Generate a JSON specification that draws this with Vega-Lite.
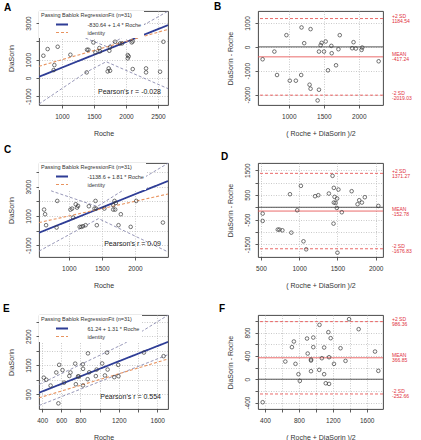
{
"$schema": "https://vega.github.io/schema/vega-lite/v6.json",
"background": "white",
"padding": {"left": 2, "top": 1, "right": 2, "bottom": 2},
"columns": 2,
"bounds": "flush",
"spacing": {"row": 58, "column": 90},
"resolve": {
  "scale": {"x": "independent", "y": "independent", "color": "independent", "strokeDash": "independent", "strokeWidth": "independent"},
  "axis": {"x": "independent", "y": "independent"},
  "legend": {"color": "independent", "strokeDash": "independent", "strokeWidth": "independent"}
},
"datasets": {
  "zero": [{"value": 0}],
  "A_pts": [
    {"Roche":709,"DiaSorin":1216},{"Roche":776,"DiaSorin":1580},{"Roche":881,"DiaSorin":706},{"Roche":870,"DiaSorin":433},
    {"Roche":933,"DiaSorin":1707},{"Roche":1131,"DiaSorin":1271},{"Roche":1391,"DiaSorin":1544},{"Roche":1412,"DiaSorin":1544},
    {"Roche":1386,"DiaSorin":306},{"Roche":1490,"DiaSorin":1944},{"Roche":1521,"DiaSorin":1398},{"Roche":1584,"DiaSorin":1635},
    {"Roche":1594,"DiaSorin":1453},{"Roche":1714,"DiaSorin":361},{"Roche":1730,"DiaSorin":524},{"Roche":1751,"DiaSorin":397},
    {"Roche":1740,"DiaSorin":1489},{"Roche":1751,"DiaSorin":1671},{"Roche":1829,"DiaSorin":1980},{"Roche":1907,"DiaSorin":1889},
    {"Roche":1938,"DiaSorin":1889},{"Roche":2027,"DiaSorin":1252},{"Roche":2027,"DiaSorin":1070},{"Roche":2042,"DiaSorin":1180},
    {"Roche":2089,"DiaSorin":1944},{"Roche":2105,"DiaSorin":1999},{"Roche":2105,"DiaSorin":488},{"Roche":2313,"DiaSorin":524},
    {"Roche":2313,"DiaSorin":306},{"Roche":2532,"DiaSorin":342},{"Roche":2584,"DiaSorin":1980}
  ],
  "A_fit": [
    {"Roche":641,"DiaSorin":67,"series":"-830.64 + 1.4 * Roche"},{"Roche":2656,"DiaSorin":2888,"series":"-830.64 + 1.4 * Roche"},
    {"Roche":641,"DiaSorin":641,"series":"identity"},{"Roche":2656,"DiaSorin":2656,"series":"identity"}
  ],
  "A_ci": [
    {"Roche":641,"DiaSorin":3190,"band":"upper"},{"Roche":1375,"DiaSorin":2165,"band":"upper"},{"Roche":1700,"DiaSorin":1715,"band":"upper"},
    {"Roche":2209,"DiaSorin":2763,"band":"upper"},{"Roche":2656,"DiaSorin":3650,"band":"upper"},
    {"Roche":641,"DiaSorin":-1420,"band":"lower"},{"Roche":1375,"DiaSorin":310,"band":"lower"},{"Roche":1690,"DiaSorin":890,"band":"lower"},
    {"Roche":2656,"DiaSorin":-580,"band":"lower"}
  ],
  "A_r": [{"label": "Pearson's r = -0.028"}],
  "B_pts": [
    {"mean":626,"diff":-518},{"mean":794,"diff":-196},{"mean":832,"diff":-1176},{"mean":966,"diff":490},{"mean":1014,"diff":-1414},
    {"mean":1101,"diff":-1414},{"mean":1177,"diff":-1176},{"mean":1182,"diff":812},{"mean":1220,"diff":154},{"mean":1297,"diff":-1582},
    {"mean":1311,"diff":-1750},{"mean":1311,"diff":742},{"mean":1412,"diff":-2240},{"mean":1431,"diff":-1792},{"mean":1431,"diff":-196},
    {"mean":1455,"diff":70},{"mean":1469,"diff":168},{"mean":1503,"diff":-196},{"mean":1527,"diff":224},{"mean":1560,"diff":-980},
    {"mean":1608,"diff":42},{"mean":1613,"diff":-266},{"mean":1675,"diff":-770},{"mean":1709,"diff":-98},{"mean":1728,"diff":490},
    {"mean":1905,"diff":-56},{"mean":1925,"diff":196},{"mean":1958,"diff":-70},{"mean":2040,"diff":-126},{"mean":2049,"diff":-28},
    {"mean":2284,"diff":-602}
  ],
  "B_ref": [
    {"stat":"+2 SD","kind":"sd","value":1184.54,"txt":"1184.54"},
    {"stat":"MEAN","kind":"mean","value":-417.24,"txt":"-417.24"},
    {"stat":"-2 SD","kind":"sd","value":-2019.03,"txt":"-2019.03"}
  ],
  "C_pts": [
    {"Roche":627,"DiaSorin":1436},{"Roche":642,"DiaSorin":1119},{"Roche":657,"DiaSorin":370},{"Roche":826,"DiaSorin":2027},
    {"Roche":816,"DiaSorin":211},{"Roche":1025,"DiaSorin":1436},{"Roche":1050,"DiaSorin":1505},{"Roche":1065,"DiaSorin":891},
    {"Roche":1105,"DiaSorin":1800},{"Roche":1125,"DiaSorin":1573},{"Roche":1140,"DiaSorin":1686},{"Roche":1165,"DiaSorin":256},
    {"Roche":1190,"DiaSorin":256},{"Roche":1215,"DiaSorin":301},{"Roche":1254,"DiaSorin":370},{"Roche":1304,"DiaSorin":1663},
    {"Roche":1404,"DiaSorin":2027},{"Roche":1389,"DiaSorin":1505},{"Roche":1414,"DiaSorin":1505},{"Roche":1424,"DiaSorin":370},
    {"Roche":1538,"DiaSorin":1505},{"Roche":1672,"DiaSorin":1732},{"Roche":1692,"DiaSorin":2027},{"Roche":1712,"DiaSorin":1890},
    {"Roche":1702,"DiaSorin":1436},{"Roche":1752,"DiaSorin":370},{"Roche":1787,"DiaSorin":1119},{"Roche":1936,"DiaSorin":256},
    {"Roche":2020,"DiaSorin":2027},{"Roche":2423,"DiaSorin":551},{"Roche":1672,"DiaSorin":1436}
  ],
  "C_fit": [
    {"Roche":550,"DiaSorin":-143,"series":"-1138.6 + 1.81 * Roche"},{"Roche":2500,"DiaSorin":3386,"series":"-1138.6 + 1.81 * Roche"},
    {"Roche":550,"DiaSorin":550,"series":"identity"},{"Roche":2500,"DiaSorin":2500,"series":"identity"}
  ],
  "C_ci": [
    {"Roche":550,"DiaSorin":3350,"band":"upper"},{"Roche":742,"DiaSorin":2700,"band":"upper"},{"Roche":1430,"DiaSorin":1650,"band":"upper"},
    {"Roche":1890,"DiaSorin":2950,"band":"upper"},{"Roche":2500,"DiaSorin":4600,"band":"upper"},
    {"Roche":550,"DiaSorin":-1400,"band":"lower"},{"Roche":1450,"DiaSorin":823,"band":"lower"},{"Roche":2500,"DiaSorin":-1450,"band":"lower"}
  ],
  "C_r": [{"label": "Pearson's r = 0.09"}],
  "D_pts": [
    {"mean":522,"diff":-255},{"mean":522,"diff":-552},{"mean":720,"diff":-903},{"mean":741,"diff":-903},{"mean":780,"diff":-930},
    {"mean":879,"diff":528},{"mean":897,"diff":-1025},{"mean":974,"diff":-120},{"mean":1022,"diff":866},{"mean":1056,"diff":-1376},
    {"mean":1091,"diff":-1700},{"mean":1207,"diff":447},{"mean":1250,"diff":488},{"mean":1388,"diff":555},{"mean":1436,"diff":1271},
    {"mean":1449,"diff":-660},{"mean":1453,"diff":785},{"mean":1462,"diff":420},{"mean":1453,"diff":191},{"mean":1475,"diff":177},
    {"mean":1492,"diff":-26},{"mean":1500,"diff":-1835},{"mean":1513,"diff":717},{"mean":1557,"diff":-201},{"mean":1686,"diff":650},
    {"mean":1763,"diff":123},{"mean":1785,"diff":285},{"mean":1820,"diff":191},{"mean":1858,"diff":407},{"mean":2035,"diff":55},
    {"mean":1496,"diff":352}
  ],
  "D_ref": [
    {"stat":"+2 SD","kind":"sd","value":1371.27,"txt":"1371.27"},
    {"stat":"MEAN","kind":"mean","value":-152.78,"txt":"-152.78"},
    {"stat":"-2 SD","kind":"sd","value":-1676.83,"txt":"-1676.83"}
  ],
  "E_pts": [
    {"Roche":570,"DiaSorin":176},{"Roche":489,"DiaSorin":792},{"Roche":444,"DiaSorin":993},{"Roche":418,"DiaSorin":1064},
    {"Roche":629,"DiaSorin":892},{"Roche":752,"DiaSorin":838},{"Roche":826,"DiaSorin":797},{"Roche":548,"DiaSorin":1245},
    {"Roche":684,"DiaSorin":1124},{"Roche":775,"DiaSorin":1112},{"Roche":783,"DiaSorin":1103},{"Roche":875,"DiaSorin":1012},
    {"Roche":613,"DiaSorin":1327},{"Roche":696,"DiaSorin":1245},{"Roche":578,"DiaSorin":1509},{"Roche":960,"DiaSorin":1120},
    {"Roche":891,"DiaSorin":1251},{"Roche":827,"DiaSorin":1370},{"Roche":1055,"DiaSorin":1141},{"Roche":1152,"DiaSorin":1083},
    {"Roche":745,"DiaSorin":1551},{"Roche":968,"DiaSorin":1345},{"Roche":1196,"DiaSorin":1116},{"Roche":824,"DiaSorin":1527},
    {"Roche":1083,"DiaSorin":1346},{"Roche":1026,"DiaSorin":1557},{"Roche":1193,"DiaSorin":1507},{"Roche":878,"DiaSorin":1907},
    {"Roche":1077,"DiaSorin":1934},{"Roche":1461,"DiaSorin":1935},{"Roche":1666,"DiaSorin":1809}
  ],
  "E_fit": [
    {"Roche":368,"DiaSorin":543,"series":"61.24 + 1.31 * Roche"},{"Roche":1712,"DiaSorin":2304,"series":"61.24 + 1.31 * Roche"},
    {"Roche":368,"DiaSorin":368,"series":"identity"},{"Roche":1712,"DiaSorin":1712,"series":"identity"}
  ],
  "E_ci": [
    {"Roche":368,"DiaSorin":830,"band":"upper"},{"Roche":1261,"DiaSorin":2254,"band":"upper"},{"Roche":1434,"DiaSorin":2656,"band":"upper"},
    {"Roche":1712,"DiaSorin":3230,"band":"upper"},
    {"Roche":368,"DiaSorin":100,"band":"lower"},{"Roche":1712,"DiaSorin":1860,"band":"lower"}
  ],
  "E_r": [{"label": "Pearson's r = 0.554"}],
  "F_pts": [
    {"mean":373,"diff":-394},{"mean":640,"diff":303},{"mean":718,"diff":549},{"mean":741,"diff":646},{"mean":760,"diff":263},
    {"mean":795,"diff":86},{"mean":811,"diff":-29},{"mean":896,"diff":697},{"mean":904,"diff":440},{"mean":943,"diff":337},
    {"mean":943,"diff":320},{"mean":943,"diff":137},{"mean":970,"diff":714},{"mean":970,"diff":549},{"mean":1043,"diff":931},
    {"mean":1040,"diff":160},{"mean":1071,"diff":360},{"mean":1098,"diff":543},{"mean":1098,"diff":86},{"mean":1117,"diff":-69},
    {"mean":1148,"diff":806},{"mean":1156,"diff":377},{"mean":1156,"diff":-80},{"mean":1175,"diff":703},{"mean":1214,"diff":263},
    {"mean":1291,"diff":531},{"mean":1350,"diff":314},{"mean":1392,"diff":1029},{"mean":1505,"diff":857},{"mean":1698,"diff":474},
    {"mean":1737,"diff":143}
  ],
  "F_ref": [
    {"stat":"+2 SD","kind":"sd","value":986.36,"txt":"986.36"},
    {"stat":"MEAN","kind":"mean","value":366.85,"txt":"366.85"},
    {"stat":"-2 SD","kind":"sd","value":-252.66,"txt":"-252.66"}
  ]
},
"concat": [
  {
    "title": {"text":"A","anchor":"start","frame":"group","offset":0,"baseline":"top","dx":-35,"dy":2.3,"fontSize":10,"fontWeight":"bold","color":"#000"},
    "width": 129, "height": 94,
    "layer": [
      {"data":{"name":"A_ci"},"mark":{"type":"line","clip":true,"color":"#8b8bb0","strokeDash":[3,2],"strokeWidth":0.9},
        "encoding":{
          "x": {"field":"Roche","type":"quantitative","title":"Roche","scale":{"domain":[641,2656],"nice":false,"zero":false},"axis":{"values":[1000,1500,2000,2500],"labelOverlap":false}},
          "y": {"field":"DiaSorin","type":"quantitative","title":"DiaSorin","scale":{"domain":[-1475,3660],"nice":false,"zero":false},"axis":{"values":[-1000,0,1000,2000,3000],"labelOverlap":false,"labelExpr":"datum.value == 2000 ? ' ' : datum.label"}},
          "detail":{"field":"band","type":"nominal"}}},
      {"data":{"name":"A_fit"},"mark":{"type":"line","clip":true},"encoding":{
        "x": {"field":"Roche","type":"quantitative","title":"Roche","scale":{"domain":[641,2656],"nice":false,"zero":false},"axis":{"values":[1000,1500,2000,2500],"labelOverlap":false}},
        "y": {"field":"DiaSorin","type":"quantitative","title":"DiaSorin","scale":{"domain":[-1475,3660],"nice":false,"zero":false},"axis":{"values":[-1000,0,1000,2000,3000],"labelOverlap":false,"labelExpr":"datum.value == 2000 ? ' ' : datum.label"}},
        "color":{"field":"series","type":"nominal","scale":{"domain":["-830.64 + 1.4 * Roche","identity"],"range":["#2e3d96","#e8935f"]},
          "legend":{"title":"Passing Bablok RegressionFit (n=31)","orient":"top-left","offset":0,"padding":2,"fillColor":"white","titleFontSize":5.5,"titleFontWeight":"normal","titleColor":"#333","titlePadding":2,"titleLimit":300,"labelFontSize":5.5,"labelColor":"#333","labelLimit":300,"symbolType":"M-2,0H2","symbolSize":36,"symbolOffset":17,"labelOffset":21.5,"rowPadding":0,"symbolFillColor":"transparent"}},
        "strokeDash":{"field":"series","type":"nominal","scale":{"domain":["-830.64 + 1.4 * Roche","identity"],"range":[[1,0],[3,2]]},
          "legend":{"title":"Passing Bablok RegressionFit (n=31)","orient":"top-left","offset":0,"padding":2,"fillColor":"white","titleFontSize":5.5,"titleFontWeight":"normal","titleColor":"#333","titlePadding":2,"titleLimit":300,"labelFontSize":5.5,"labelColor":"#333","labelLimit":300,"symbolType":"M-2,0H2","symbolSize":36,"symbolOffset":17,"labelOffset":21.5,"rowPadding":0,"symbolFillColor":"transparent"}},
        "strokeWidth":{"field":"series","type":"ordinal","scale":{"type":"ordinal","domain":["-830.64 + 1.4 * Roche","identity"],"range":[1.8,1.1]},
          "legend":{"title":"Passing Bablok RegressionFit (n=31)","orient":"top-left","offset":0,"padding":2,"fillColor":"white","titleFontSize":5.5,"titleFontWeight":"normal","titleColor":"#333","titlePadding":2,"titleLimit":300,"labelFontSize":5.5,"labelColor":"#333","labelLimit":300,"symbolType":"M-2,0H2","symbolSize":36,"symbolOffset":17,"labelOffset":21.5,"rowPadding":0,"symbolFillColor":"transparent"}}
      }},
      {"data":{"name":"A_pts"},"mark":{"type":"point","filled":false,"size":13,"color":"#3a3a3a","strokeWidth":0.7,"opacity":1},
        "encoding":{
          "x": {"field":"Roche","type":"quantitative","title":"Roche","scale":{"domain":[641,2656],"nice":false,"zero":false},"axis":{"values":[1000,1500,2000,2500],"labelOverlap":false}},
          "y": {"field":"DiaSorin","type":"quantitative","title":"DiaSorin","scale":{"domain":[-1475,3660],"nice":false,"zero":false},"axis":{"values":[-1000,0,1000,2000,3000],"labelOverlap":false,"labelExpr":"datum.value == 2000 ? ' ' : datum.label"}}}},
      {"data":{"name":"A_r"},"mark":{"type":"text","align":"right","baseline":"alphabetic","dx":-7,"dy":-11,"fontSize":7,"color":"#222"},
        "encoding":{
          "x":{"datum":2656,"type":"quantitative","title":"Roche","scale":{"domain":[641,2656],"nice":false,"zero":false},"axis":{"values":[1000,1500,2000,2500],"labelOverlap":false}},
          "y":{"datum":-1475,"type":"quantitative","title":"DiaSorin","scale":{"domain":[-1475,3660],"nice":false,"zero":false},"axis":{"values":[-1000,0,1000,2000,3000],"labelOverlap":false,"labelExpr":"datum.value == 2000 ? ' ' : datum.label"}},
          "text":{"field":"label","type":"nominal"}}}
    ]
  },
  {
    "title": {"text":"B","anchor":"start","frame":"group","offset":0,"baseline":"top","dx":-44,"dy":0.6,"fontSize":10,"fontWeight":"bold","color":"#000"},
    "width": 125, "height": 94,
    "layer": [
      {"data":{"name":"zero"},"mark":{"type":"rule","color":"#444","strokeWidth":0.9},
        "encoding":{"y":{"field":"value","type":"quantitative","title":"DiaSorin - Roche","scale":{"domain":[-2430,1500],"nice":false,"zero":false},"axis":{"values":[-2000,-1000,0,1000],"labelOverlap":false}}}},
      {"data":{"name":"B_ref"},"mark":{"type":"rule","color":"#e85a5a","strokeWidth":0.9},
        "encoding":{"y":{"field":"value","type":"quantitative","title":"DiaSorin - Roche","scale":{"domain":[-2430,1500],"nice":false,"zero":false},"axis":{"values":[-2000,-1000,0,1000],"labelOverlap":false}},
          "strokeDash":{"field":"kind","type":"nominal","scale":{"domain":["mean","sd"],"range":[[1,0],[3,2]]},"legend":null}}},
      {"data":{"name":"B_pts"},"mark":{"type":"point","filled":false,"size":13,"color":"#3a3a3a","strokeWidth":0.7,"opacity":1},
        "encoding":{
          "x":{"field":"mean","type":"quantitative","title":"( Roche + DiaSorin )/2","scale":{"domain":[560,2346],"nice":false,"zero":false},"axis":{"values":[1000,1500,2000],"labelOverlap":false}},
          "y":{"field":"diff","type":"quantitative","title":"DiaSorin - Roche","scale":{"domain":[-2430,1500],"nice":false,"zero":false},"axis":{"values":[-2000,-1000,0,1000],"labelOverlap":false}}}},
      {"data":{"name":"B_ref"},"mark":{"type":"text","align":"left","baseline":"middle","dx":9,"dy":-2.5,"fontSize":5,"color":"#e0303c"},
        "encoding":{"x":{"datum":2346,"type":"quantitative","title":"( Roche + DiaSorin )/2","scale":{"domain":[560,2346],"nice":false,"zero":false},"axis":{"values":[1000,1500,2000],"labelOverlap":false}},
          "y":{"field":"value","type":"quantitative","title":"DiaSorin - Roche","scale":{"domain":[-2430,1500],"nice":false,"zero":false},"axis":{"values":[-2000,-1000,0,1000],"labelOverlap":false}},"text":{"field":"stat"}}},
      {"data":{"name":"B_ref"},"mark":{"type":"text","align":"left","baseline":"middle","dx":9,"dy":2.5,"fontSize":5,"color":"#e0303c"},
        "encoding":{"x":{"datum":2346,"type":"quantitative","title":"( Roche + DiaSorin )/2","scale":{"domain":[560,2346],"nice":false,"zero":false},"axis":{"values":[1000,1500,2000],"labelOverlap":false}},
          "y":{"field":"value","type":"quantitative","title":"DiaSorin - Roche","scale":{"domain":[-2430,1500],"nice":false,"zero":false},"axis":{"values":[-2000,-1000,0,1000],"labelOverlap":false}},"text":{"field":"txt"}}}
    ]
  },
  {
    "title": {"text":"C","anchor":"start","frame":"group","offset":0,"baseline":"top","dx":-35,"dy":-8.4,"fontSize":10,"fontWeight":"bold","color":"#000"},
    "width": 129, "height": 94,
    "layer": [
      {"data":{"name":"C_ci"},"mark":{"type":"line","clip":true,"color":"#8b8bb0","strokeDash":[3,2],"strokeWidth":0.9},
        "encoding":{
          "x": {"field":"Roche","type":"quantitative","title":"Roche","scale":{"domain":[550,2500],"nice":false,"zero":false},"axis":{"values":[1000,1500,2000],"labelOverlap":false}},
          "y": {"field":"DiaSorin","type":"quantitative","title":"DiaSorin","scale":{"domain":[-1800,4615],"nice":false,"zero":false},"axis":{"values":[-1000,0,1000,2000,3000,4000],"labelOverlap":false,"labelExpr":"datum.value == 0 || datum.value == 2000 || datum.value == 4000 ? ' ' : datum.label"}},
          "detail":{"field":"band","type":"nominal"}}},
      {"data":{"name":"C_fit"},"mark":{"type":"line","clip":true},"encoding":{
        "x": {"field":"Roche","type":"quantitative","title":"Roche","scale":{"domain":[550,2500],"nice":false,"zero":false},"axis":{"values":[1000,1500,2000],"labelOverlap":false}},
        "y": {"field":"DiaSorin","type":"quantitative","title":"DiaSorin","scale":{"domain":[-1800,4615],"nice":false,"zero":false},"axis":{"values":[-1000,0,1000,2000,3000,4000],"labelOverlap":false,"labelExpr":"datum.value == 0 || datum.value == 2000 || datum.value == 4000 ? ' ' : datum.label"}},
        "color":{"field":"series","type":"nominal","scale":{"domain":["-1138.6 + 1.81 * Roche","identity"],"range":["#2e3d96","#e8935f"]},
          "legend":{"title":"Passing Bablok RegressionFit (n=31)","orient":"top-left","offset":0,"padding":2,"fillColor":"white","titleFontSize":5.5,"titleFontWeight":"normal","titleColor":"#333","titlePadding":2,"titleLimit":300,"labelFontSize":5.5,"labelColor":"#333","labelLimit":300,"symbolType":"M-2,0H2","symbolSize":36,"symbolOffset":17,"labelOffset":21.5,"rowPadding":0,"symbolFillColor":"transparent"}},
        "strokeDash":{"field":"series","type":"nominal","scale":{"domain":["-1138.6 + 1.81 * Roche","identity"],"range":[[1,0],[3,2]]},
          "legend":{"title":"Passing Bablok RegressionFit (n=31)","orient":"top-left","offset":0,"padding":2,"fillColor":"white","titleFontSize":5.5,"titleFontWeight":"normal","titleColor":"#333","titlePadding":2,"titleLimit":300,"labelFontSize":5.5,"labelColor":"#333","labelLimit":300,"symbolType":"M-2,0H2","symbolSize":36,"symbolOffset":17,"labelOffset":21.5,"rowPadding":0,"symbolFillColor":"transparent"}},
        "strokeWidth":{"field":"series","type":"ordinal","scale":{"type":"ordinal","domain":["-1138.6 + 1.81 * Roche","identity"],"range":[1.8,1.1]},
          "legend":{"title":"Passing Bablok RegressionFit (n=31)","orient":"top-left","offset":0,"padding":2,"fillColor":"white","titleFontSize":5.5,"titleFontWeight":"normal","titleColor":"#333","titlePadding":2,"titleLimit":300,"labelFontSize":5.5,"labelColor":"#333","labelLimit":300,"symbolType":"M-2,0H2","symbolSize":36,"symbolOffset":17,"labelOffset":21.5,"rowPadding":0,"symbolFillColor":"transparent"}}
      }},
      {"data":{"name":"C_pts"},"mark":{"type":"point","filled":false,"size":13,"color":"#3a3a3a","strokeWidth":0.7,"opacity":1},
        "encoding":{
          "x": {"field":"Roche","type":"quantitative","title":"Roche","scale":{"domain":[550,2500],"nice":false,"zero":false},"axis":{"values":[1000,1500,2000],"labelOverlap":false}},
          "y": {"field":"DiaSorin","type":"quantitative","title":"DiaSorin","scale":{"domain":[-1800,4615],"nice":false,"zero":false},"axis":{"values":[-1000,0,1000,2000,3000,4000],"labelOverlap":false,"labelExpr":"datum.value == 0 || datum.value == 2000 || datum.value == 4000 ? ' ' : datum.label"}}}},
      {"data":{"name":"C_r"},"mark":{"type":"text","align":"right","baseline":"alphabetic","dx":-7,"dy":-11,"fontSize":7,"color":"#222"},
        "encoding":{
          "x":{"datum":2500,"type":"quantitative","title":"Roche","scale":{"domain":[550,2500],"nice":false,"zero":false},"axis":{"values":[1000,1500,2000],"labelOverlap":false}},
          "y":{"datum":-1800,"type":"quantitative","title":"DiaSorin","scale":{"domain":[-1800,4615],"nice":false,"zero":false},"axis":{"values":[-1000,0,1000,2000,3000,4000],"labelOverlap":false,"labelExpr":"datum.value == 0 || datum.value == 2000 || datum.value == 4000 ? ' ' : datum.label"}},
          "text":{"field":"label","type":"nominal"}}}
    ]
  },
  {
    "title": {"text":"D","anchor":"start","frame":"group","offset":0,"baseline":"top","dx":-37,"dy":-0.7,"fontSize":10,"fontWeight":"bold","color":"#000"},
    "width": 125, "height": 94,
    "layer": [
      {"data":{"name":"zero"},"mark":{"type":"rule","color":"#444","strokeWidth":0.9},
        "encoding":{"y":{"field":"value","type":"quantitative","title":"DiaSorin - Roche","scale":{"domain":[-2010,1790],"nice":false,"zero":false},"axis":{"values":[-1500,-1000,-500,0,500,1000,1500],"labelOverlap":false,"labelExpr":"datum.value == -1000 || datum.value == 0 || datum.value == 1000 ? ' ' : datum.label"}}}},
      {"data":{"name":"D_ref"},"mark":{"type":"rule","color":"#e85a5a","strokeWidth":0.9},
        "encoding":{"y":{"field":"value","type":"quantitative","title":"DiaSorin - Roche","scale":{"domain":[-2010,1790],"nice":false,"zero":false},"axis":{"values":[-1500,-1000,-500,0,500,1000,1500],"labelOverlap":false,"labelExpr":"datum.value == -1000 || datum.value == 0 || datum.value == 1000 ? ' ' : datum.label"}},
          "strokeDash":{"field":"kind","type":"nominal","scale":{"domain":["mean","sd"],"range":[[1,0],[3,2]]},"legend":null}}},
      {"data":{"name":"D_pts"},"mark":{"type":"point","filled":false,"size":13,"color":"#3a3a3a","strokeWidth":0.7,"opacity":1},
        "encoding":{
          "x":{"field":"mean","type":"quantitative","title":"( Roche + DiaSorin )/2","scale":{"domain":[461,2096],"nice":false,"zero":false},"axis":{"values":[500,1000,1500,2000],"labelOverlap":false}},
          "y":{"field":"diff","type":"quantitative","title":"DiaSorin - Roche","scale":{"domain":[-2010,1790],"nice":false,"zero":false},"axis":{"values":[-1500,-1000,-500,0,500,1000,1500],"labelOverlap":false,"labelExpr":"datum.value == -1000 || datum.value == 0 || datum.value == 1000 ? ' ' : datum.label"}}}},
      {"data":{"name":"D_ref"},"mark":{"type":"text","align":"left","baseline":"middle","dx":9,"dy":-2.5,"fontSize":5,"color":"#e0303c"},
        "encoding":{"x":{"datum":2096,"type":"quantitative","title":"( Roche + DiaSorin )/2","scale":{"domain":[461,2096],"nice":false,"zero":false},"axis":{"values":[500,1000,1500,2000],"labelOverlap":false}},
          "y":{"field":"value","type":"quantitative","title":"DiaSorin - Roche","scale":{"domain":[-2010,1790],"nice":false,"zero":false},"axis":{"values":[-1500,-1000,-500,0,500,1000,1500],"labelOverlap":false,"labelExpr":"datum.value == -1000 || datum.value == 0 || datum.value == 1000 ? ' ' : datum.label"}},"text":{"field":"stat"}}},
      {"data":{"name":"D_ref"},"mark":{"type":"text","align":"left","baseline":"middle","dx":9,"dy":2.5,"fontSize":5,"color":"#e0303c"},
        "encoding":{"x":{"datum":2096,"type":"quantitative","title":"( Roche + DiaSorin )/2","scale":{"domain":[461,2096],"nice":false,"zero":false},"axis":{"values":[500,1000,1500,2000],"labelOverlap":false}},
          "y":{"field":"value","type":"quantitative","title":"DiaSorin - Roche","scale":{"domain":[-2010,1790],"nice":false,"zero":false},"axis":{"values":[-1500,-1000,-500,0,500,1000,1500],"labelOverlap":false,"labelExpr":"datum.value == -1000 || datum.value == 0 || datum.value == 1000 ? ' ' : datum.label"}},"text":{"field":"txt"}}}
    ]
  },
  {
    "title": {"text":"E","anchor":"start","frame":"group","offset":0,"baseline":"top","dx":-36,"dy":-0.7,"fontSize":10,"fontWeight":"bold","color":"#000"},
    "width": 129, "height": 94,
    "layer": [
      {"data":{"name":"E_ci"},"mark":{"type":"line","clip":true,"color":"#8b8bb0","strokeDash":[3,2],"strokeWidth":0.9},
        "encoding":{
          "x": {"field":"Roche","type":"quantitative","title":"Roche","scale":{"domain":[368,1712],"nice":false,"zero":false},"axis":{"values":[400,600,800,1000,1200,1400,1600],"labelOverlap":false,"labelExpr":"datum.value == 1000 || datum.value == 1400 ? ' ' : datum.label"}},
          "y": {"field":"DiaSorin","type":"quantitative","title":"DiaSorin","scale":{"domain":[-20,3235],"nice":false,"zero":false},"axis":{"values":[500,1000,1500,2000,2500,3000],"labelOverlap":false,"labelExpr":"datum.value == 1000 || datum.value == 2000 || datum.value == 3000 ? ' ' : datum.label"}},
          "detail":{"field":"band","type":"nominal"}}},
      {"data":{"name":"E_fit"},"mark":{"type":"line","clip":true},"encoding":{
        "x": {"field":"Roche","type":"quantitative","title":"Roche","scale":{"domain":[368,1712],"nice":false,"zero":false},"axis":{"values":[400,600,800,1000,1200,1400,1600],"labelOverlap":false,"labelExpr":"datum.value == 1000 || datum.value == 1400 ? ' ' : datum.label"}},
        "y": {"field":"DiaSorin","type":"quantitative","title":"DiaSorin","scale":{"domain":[-20,3235],"nice":false,"zero":false},"axis":{"values":[500,1000,1500,2000,2500,3000],"labelOverlap":false,"labelExpr":"datum.value == 1000 || datum.value == 2000 || datum.value == 3000 ? ' ' : datum.label"}},
        "color":{"field":"series","type":"nominal","scale":{"domain":["61.24 + 1.31 * Roche","identity"],"range":["#2e3d96","#e8935f"]},
          "legend":{"title":"Passing Bablok RegressionFit (n=31)","orient":"top-left","offset":0,"padding":2,"fillColor":"white","titleFontSize":5.5,"titleFontWeight":"normal","titleColor":"#333","titlePadding":2,"titleLimit":300,"labelFontSize":5.5,"labelColor":"#333","labelLimit":300,"symbolType":"M-2,0H2","symbolSize":36,"symbolOffset":17,"labelOffset":21.5,"rowPadding":0,"symbolFillColor":"transparent"}},
        "strokeDash":{"field":"series","type":"nominal","scale":{"domain":["61.24 + 1.31 * Roche","identity"],"range":[[1,0],[3,2]]},
          "legend":{"title":"Passing Bablok RegressionFit (n=31)","orient":"top-left","offset":0,"padding":2,"fillColor":"white","titleFontSize":5.5,"titleFontWeight":"normal","titleColor":"#333","titlePadding":2,"titleLimit":300,"labelFontSize":5.5,"labelColor":"#333","labelLimit":300,"symbolType":"M-2,0H2","symbolSize":36,"symbolOffset":17,"labelOffset":21.5,"rowPadding":0,"symbolFillColor":"transparent"}},
        "strokeWidth":{"field":"series","type":"ordinal","scale":{"type":"ordinal","domain":["61.24 + 1.31 * Roche","identity"],"range":[1.8,1.1]},
          "legend":{"title":"Passing Bablok RegressionFit (n=31)","orient":"top-left","offset":0,"padding":2,"fillColor":"white","titleFontSize":5.5,"titleFontWeight":"normal","titleColor":"#333","titlePadding":2,"titleLimit":300,"labelFontSize":5.5,"labelColor":"#333","labelLimit":300,"symbolType":"M-2,0H2","symbolSize":36,"symbolOffset":17,"labelOffset":21.5,"rowPadding":0,"symbolFillColor":"transparent"}}
      }},
      {"data":{"name":"E_pts"},"mark":{"type":"point","filled":false,"size":13,"color":"#3a3a3a","strokeWidth":0.7,"opacity":1},
        "encoding":{
          "x": {"field":"Roche","type":"quantitative","title":"Roche","scale":{"domain":[368,1712],"nice":false,"zero":false},"axis":{"values":[400,600,800,1000,1200,1400,1600],"labelOverlap":false,"labelExpr":"datum.value == 1000 || datum.value == 1400 ? ' ' : datum.label"}},
          "y": {"field":"DiaSorin","type":"quantitative","title":"DiaSorin","scale":{"domain":[-20,3235],"nice":false,"zero":false},"axis":{"values":[500,1000,1500,2000,2500,3000],"labelOverlap":false,"labelExpr":"datum.value == 1000 || datum.value == 2000 || datum.value == 3000 ? ' ' : datum.label"}}}},
      {"data":{"name":"E_r"},"mark":{"type":"text","align":"right","baseline":"alphabetic","dx":-7,"dy":-10.5,"fontSize":7,"color":"#222"},
        "encoding":{
          "x":{"datum":1712,"type":"quantitative","title":"Roche","scale":{"domain":[368,1712],"nice":false,"zero":false},"axis":{"values":[400,600,800,1000,1200,1400,1600],"labelOverlap":false,"labelExpr":"datum.value == 1000 || datum.value == 1400 ? ' ' : datum.label"}},
          "y":{"datum":-20,"type":"quantitative","title":"DiaSorin","scale":{"domain":[-20,3235],"nice":false,"zero":false},"axis":{"values":[500,1000,1500,2000,2500,3000],"labelOverlap":false,"labelExpr":"datum.value == 1000 || datum.value == 2000 || datum.value == 3000 ? ' ' : datum.label"}},
          "text":{"field":"label","type":"nominal"}}}
    ]
  },
  {
    "title": {"text":"F","anchor":"start","frame":"group","offset":0,"baseline":"top","dx":-39,"dy":-0.7,"fontSize":10,"fontWeight":"bold","color":"#000"},
    "width": 125, "height": 94,
    "layer": [
      {"data":{"name":"zero"},"mark":{"type":"rule","color":"#444","strokeWidth":0.9},
        "encoding":{"y":{"field":"value","type":"quantitative","title":"DiaSorin - Roche","scale":{"domain":[-510,1100],"nice":false,"zero":false},"axis":{"values":[-400,-200,0,200,400,600,800,1000],"labelOverlap":false,"labelExpr":"datum.value == -200 || datum.value == 200 || datum.value == 600 || datum.value == 1000 ? ' ' : datum.label"}}}},
      {"data":{"name":"F_ref"},"mark":{"type":"rule","color":"#e85a5a","strokeWidth":0.9},
        "encoding":{"y":{"field":"value","type":"quantitative","title":"DiaSorin - Roche","scale":{"domain":[-510,1100],"nice":false,"zero":false},"axis":{"values":[-400,-200,0,200,400,600,800,1000],"labelOverlap":false,"labelExpr":"datum.value == -200 || datum.value == 200 || datum.value == 600 || datum.value == 1000 ? ' ' : datum.label"}},
          "strokeDash":{"field":"kind","type":"nominal","scale":{"domain":["mean","sd"],"range":[[1,0],[3,2]]},"legend":null}}},
      {"data":{"name":"F_pts"},"mark":{"type":"point","filled":false,"size":13,"color":"#3a3a3a","strokeWidth":0.7,"opacity":1},
        "encoding":{
          "x":{"field":"mean","type":"quantitative","title":"( Roche + DiaSorin )/2","scale":{"domain":[318,1792],"nice":false,"zero":false},"axis":{"values":[400,600,800,1000,1200,1400,1600],"labelOverlap":false,"labelExpr":"datum.value == 600 || datum.value == 1000 || datum.value == 1400 ? ' ' : datum.label"}},
          "y":{"field":"diff","type":"quantitative","title":"DiaSorin - Roche","scale":{"domain":[-510,1100],"nice":false,"zero":false},"axis":{"values":[-400,-200,0,200,400,600,800,1000],"labelOverlap":false,"labelExpr":"datum.value == -200 || datum.value == 200 || datum.value == 600 || datum.value == 1000 ? ' ' : datum.label"}}}},
      {"data":{"name":"F_ref"},"mark":{"type":"text","align":"left","baseline":"middle","dx":9,"dy":-2.5,"fontSize":5,"color":"#e0303c"},
        "encoding":{"x":{"datum":1792,"type":"quantitative","title":"( Roche + DiaSorin )/2","scale":{"domain":[318,1792],"nice":false,"zero":false},"axis":{"values":[400,600,800,1000,1200,1400,1600],"labelOverlap":false,"labelExpr":"datum.value == 600 || datum.value == 1000 || datum.value == 1400 ? ' ' : datum.label"}},
          "y":{"field":"value","type":"quantitative","title":"DiaSorin - Roche","scale":{"domain":[-510,1100],"nice":false,"zero":false},"axis":{"values":[-400,-200,0,200,400,600,800,1000],"labelOverlap":false,"labelExpr":"datum.value == -200 || datum.value == 200 || datum.value == 600 || datum.value == 1000 ? ' ' : datum.label"}},"text":{"field":"stat"}}},
      {"data":{"name":"F_ref"},"mark":{"type":"text","align":"left","baseline":"middle","dx":9,"dy":2.5,"fontSize":5,"color":"#e0303c"},
        "encoding":{"x":{"datum":1792,"type":"quantitative","title":"( Roche + DiaSorin )/2","scale":{"domain":[318,1792],"nice":false,"zero":false},"axis":{"values":[400,600,800,1000,1200,1400,1600],"labelOverlap":false,"labelExpr":"datum.value == 600 || datum.value == 1000 || datum.value == 1400 ? ' ' : datum.label"}},
          "y":{"field":"value","type":"quantitative","title":"DiaSorin - Roche","scale":{"domain":[-510,1100],"nice":false,"zero":false},"axis":{"values":[-400,-200,0,200,400,600,800,1000],"labelOverlap":false,"labelExpr":"datum.value == -200 || datum.value == 200 || datum.value == 600 || datum.value == 1000 ? ' ' : datum.label"}},"text":{"field":"txt"}}}
    ]
  }
],
"config": {
  "font": "Liberation Sans",
  "view": {"stroke": "#333", "strokeWidth": 0.9},
  "locale": {"number": {"decimal": ".", "thousands": "", "grouping": [3], "currency": ["", ""], "minus": "-"}},
  "axis": {
    "domain": false, "format": "d", "labelOverlap": false,
    "tickSize": 3, "tickColor": "#333", "tickWidth": 0.8,
    "labelFont": "Liberation Sans", "labelFontSize": 6.5, "labelColor": "#333",
    "titleFont": "Liberation Sans", "titleFontSize": 7, "titleFontWeight": "normal", "titleColor": "#333",
    "grid": true, "gridColor": "#bdbdbd", "gridDash": [1, 1.5], "gridWidth": 0.8
  },
  "axisX": {"labelPadding": 5, "titlePadding": 10, "labelFlush": false, "labelOverlap": false},
  "axisY": {"labelAngle": -90, "labelAlign": "center", "labelBaseline": "bottom", "labelPadding": 5, "titlePadding": 11, "labelFlush": false, "labelOverlap": false}
}
}
